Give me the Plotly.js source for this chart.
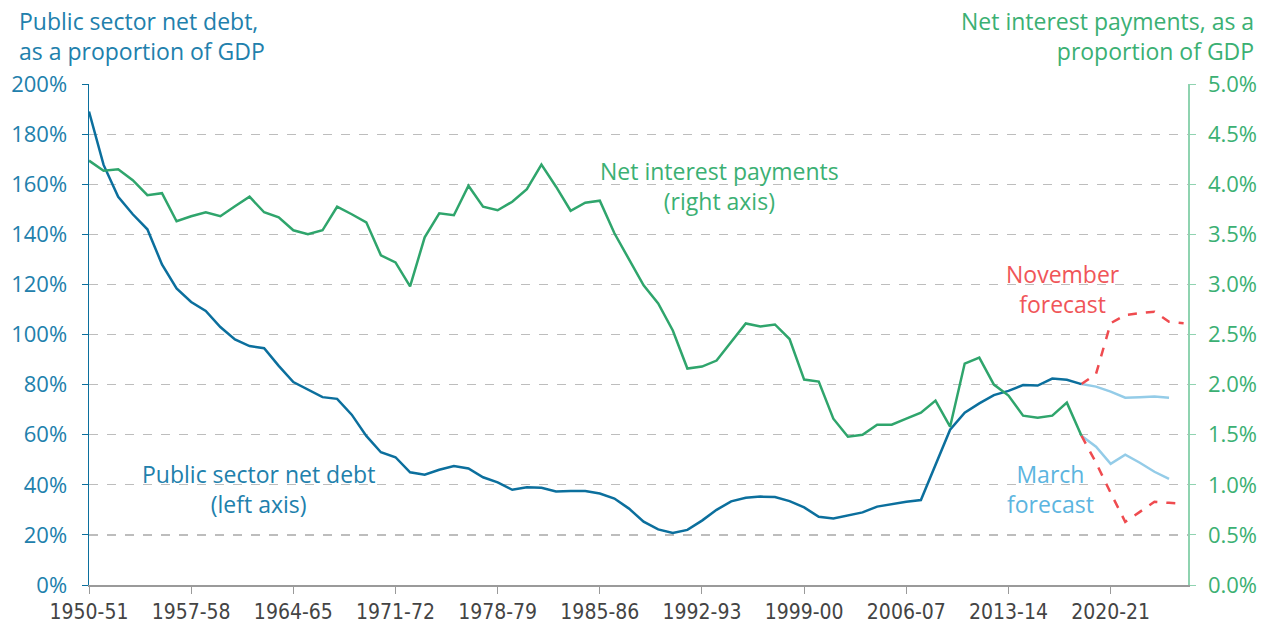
<!DOCTYPE html>
<html>
<head>
<meta charset="utf-8">
<script src="https://cdn.plot.ly/plotly-3.0.1.min.js"></script>
<style>html,body{margin:0;padding:0;background:#fff;}#chart{width:1271px;height:626px;}</style>
</head>
<body>
<div id="chart"></div>
<script>
// Fiscal years start (1950 = 1950-51)
const debtYears = [1950,1951,1952,1953,1954,1955,1956,1957,1958,1959,1960,1961,1962,1963,1964,1965,1966,1967,1968,1969,1970,1971,1972,1973,1974,1975,1976,1977,1978,1979,1980,1981,1982,1983,1984,1985,1986,1987,1988,1989,1990,1991,1992,1993,1994,1995,1996,1997,1998,1999,2000,2001,2002,2003,2004,2005,2006,2007,2008,2009,2010,2011,2012,2013,2014,2015,2016,2017,2018];
const debtValues = [189,167.7,155,148,142,128,118.4,113,109.4,103,98,95.4,94.5,87.5,81,78,75,74.3,68,59.5,53,51,45,44,46,47.5,46.5,43,41,38,39,38.8,37.3,37.5,37.5,36.5,34.5,30.5,25.3,22.2,20.8,22,25.7,30,33.4,34.8,35.3,35.1,33.5,31,27.2,26.6,27.8,29,31.3,32.4,33.2,33.9,48,62,68.8,72.5,75.8,77.5,79.8,79.6,82.4,81.9,80.2];
const interestValues = [4.235,4.135,4.15,4.04,3.89,3.91,3.63,3.68,3.72,3.68,3.78,3.875,3.72,3.67,3.54,3.50,3.54,3.775,3.70,3.62,3.29,3.22,2.98,3.47,3.71,3.69,3.985,3.775,3.74,3.825,3.95,4.195,3.975,3.735,3.815,3.835,3.51,3.25,2.99,2.81,2.54,2.16,2.18,2.24,2.42,2.61,2.58,2.60,2.455,2.05,2.03,1.66,1.48,1.50,1.60,1.60,1.66,1.72,1.84,1.58,2.21,2.27,2.0,1.89,1.69,1.67,1.69,1.82,1.49];

const marchYears = [2018,2019,2020,2021,2022,2023,2024];
const marchDebt = [80.2,79.2,77.2,74.8,75.0,75.2,74.8];
const marchInterest = [1.49,1.38,1.21,1.30,1.22,1.13,1.06];

const novYears = [2018,2019,2020,2021,2022,2023,2024,2025];
const novDebt = [80.2,84.3,104.5,107.8,108.5,109.1,105.1,104.5];
const novInterest = [1.49,1.22,0.92,0.63,0.73,0.83,0.82,0.81];

const tickYears = [1950,1957,1964,1971,1978,1985,1992,1999,2006,2013,2020];
const tickLabels = ['1950-51','1957-58','1964-65','1971-72','1978-79','1985-86','1992-93','1999-00','2006-07','2013-14','2020-21'];

const C = {
  debt:'#0b6f9d', interest:'#2fa56c', march:'#94cce8', nov:'#ef4b4f',
  blueText:'#2180ac', greenText:'#3bb073', marchText:'#5cb5e0', novText:'#f05558'
};
const F = '"Open Sans", Roboto, sans-serif';

const traces = [
  {x:marchYears, y:marchInterest, yaxis:'y2', mode:'lines', line:{color:C.march, width:2.5}, hoverinfo:'skip'},
  {x:novYears, y:novInterest, yaxis:'y2', mode:'lines', line:{color:C.nov, width:2.5, dash:'dash'}, hoverinfo:'skip'},
  {x:debtYears, y:interestValues, yaxis:'y2', mode:'lines', line:{color:C.interest, width:2.5}, hoverinfo:'skip'},
  {x:marchYears, y:marchDebt, mode:'lines', line:{color:C.march, width:2.5}, hoverinfo:'skip'},
  {x:novYears, y:novDebt, mode:'lines', line:{color:C.nov, width:2.5, dash:'dash'}, hoverinfo:'skip'},
  {x:debtYears, y:debtValues, mode:'lines', line:{color:C.debt, width:2.5}, hoverinfo:'skip'}
];

const layout = {
  width:1271, height:626,
  margin:{l:89, r:83, t:84, b:41},
  paper_bgcolor:'#fff', plot_bgcolor:'#fff',
  showlegend:false,
  font:{family:F},
  xaxis:{
    range:[1950, 2025.3], tickmode:'array', tickvals:tickYears, ticktext:tickLabels,
    showgrid:false, zeroline:false, showline:true, linecolor:'#9a9a9a', linewidth:1.5,
    ticks:'outside', ticklen:7, tickcolor:'#9a9a9a', tickwidth:1,
    tickfont:{family:'"Liberation Sans Narrow", "DejaVu Sans Condensed", "Roboto Condensed", sans-serif', size:21, color:'#444'}
  },
  yaxis:{
    range:[0,200], tickvals:[0,20,40,60,80,100,120,140,160,180,200],
    ticktext:['0%','20%','40%','60%','80%','100%','120%','140%','160%','180%','200%'],
    showgrid:true, gridcolor:'#bdbdbd', griddash:'dash', gridwidth:1.2,
    zeroline:false, showline:true, linecolor:C.debt, linewidth:1.5,
    ticks:'outside', ticklen:6, tickcolor:C.debt, ticklabelstandoff:10,
    tickfont:{family:F, size:22, color:C.blueText}
  },
  yaxis2:{
    overlaying:'y', side:'right', range:[0,5],
    tickvals:[0,0.5,1,1.5,2,2.5,3,3.5,4,4.5,5],
    ticktext:['0.0%','0.5%','1.0%','1.5%','2.0%','2.5%','3.0%','3.5%','4.0%','4.5%','5.0%'],
    showgrid:false, zeroline:false, showline:true, linecolor:'#8fd3b0', linewidth:1.5,
    ticks:'outside', ticklen:6, tickcolor:'#8fd3b0', ticklabelstandoff:8,
    tickfont:{family:F, size:22, color:C.greenText}
  },
  annotations:[
    {xref:'paper', yref:'paper', x:-0.0655, y:1.0958, xanchor:'left', yanchor:'middle', align:'left', showarrow:false,
     text:'Public sector net debt,<br>as a proportion of GDP', font:{family:F, size:23, color:C.blueText}},
    {xref:'paper', yref:'paper', x:1.062, y:1.0958, xanchor:'right', yanchor:'middle', align:'right', showarrow:false,
     text:'Net interest payments, as a<br>proportion of GDP', font:{family:F, size:23, color:C.greenText}},
    {xref:'x', yref:'y', x:1993.2, y:159.1, showarrow:false, align:'center',
     text:'Net interest payments<br>(right axis)', font:{family:F, size:23, color:C.greenText}},
    {xref:'x', yref:'y', x:1961.6, y:38.5, showarrow:false, align:'center',
     text:'Public sector net debt<br>(left axis)', font:{family:F, size:23, color:C.blueText}},
    {xref:'x', yref:'y', x:2016.75, y:118, showarrow:false, align:'center',
     text:'November<br>forecast', font:{family:F, size:23, color:C.novText}},
    {xref:'x', yref:'y', x:2015.9, y:38.5, showarrow:false, align:'center',
     text:'March<br>forecast', font:{family:F, size:23, color:C.marchText}}
  ]
};

Plotly.newPlot('chart', traces, layout, {displayModeBar:false, staticPlot:true});
</script>
</body>
</html>
